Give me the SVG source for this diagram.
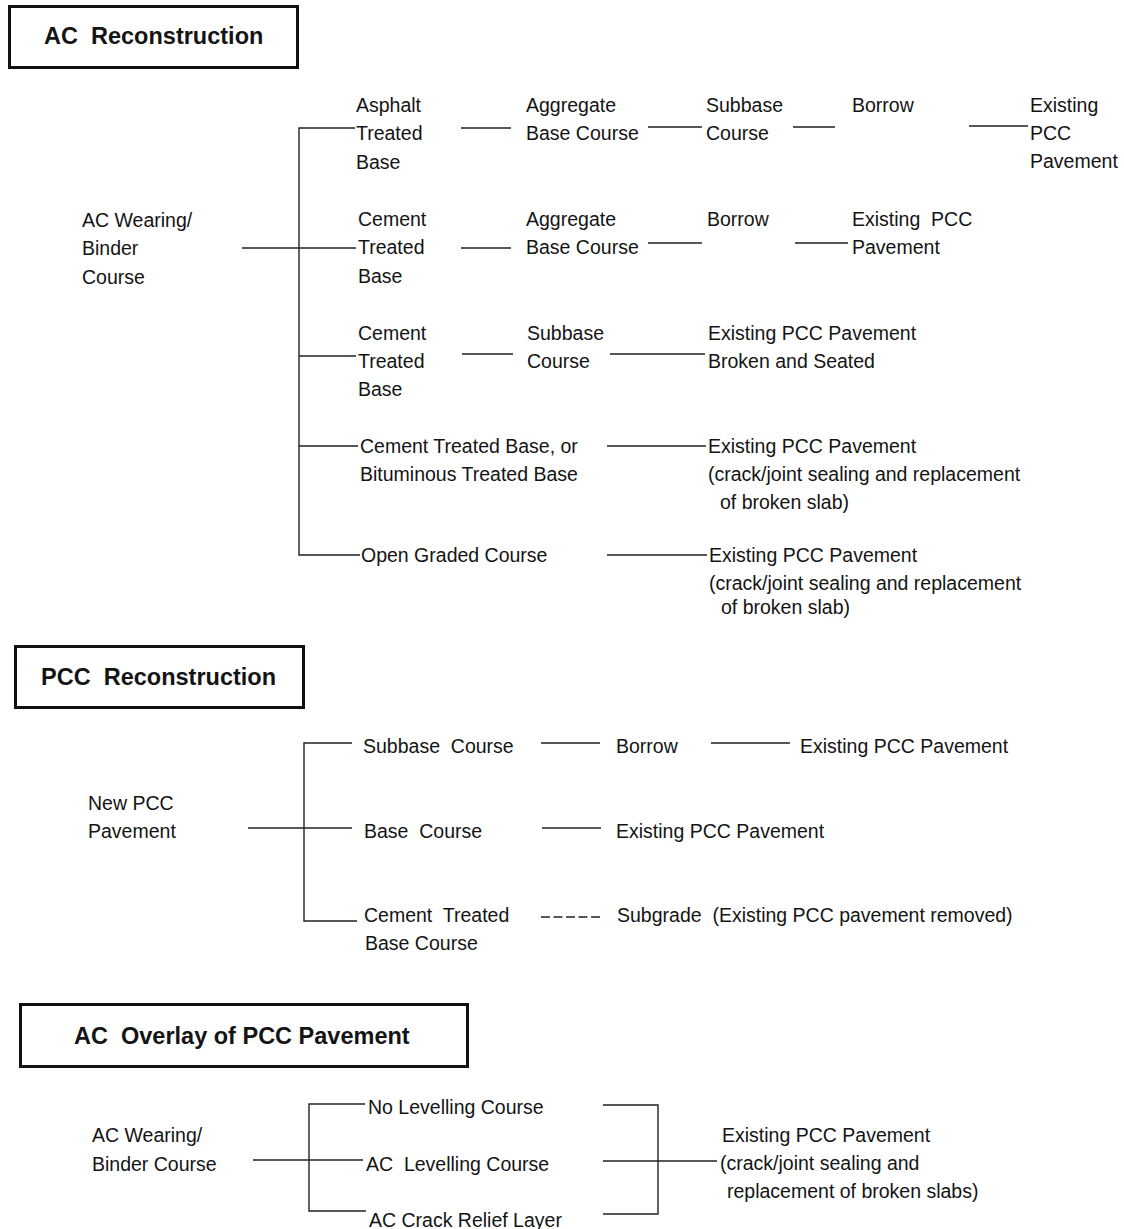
<svg xmlns="http://www.w3.org/2000/svg" width="1124" height="1229" viewBox="0 0 1124 1229">
<style>
text{font-family:"Liberation Sans",Arial,sans-serif;font-size:19.5px;fill:#141414;white-space:pre}
.title{font-weight:bold;font-size:23.5px}
.box{fill:none;stroke:#111;stroke-width:3}
.ln{stroke:#222;stroke-width:1.4;fill:none}
.dash{stroke-dasharray:9 3.5;stroke-width:1.6}
</style>
<rect width="1124" height="1229" fill="#fff"/>

<!-- Section 1 -->
<g id="hdr-ac-reconstruction"><rect class="box" x="9.5" y="6.5" width="288" height="61"/><text class="title" x="44" y="44">AC  Reconstruction</text></g>
<g id="n-ac-wearing-1"><text x="82" y="227">AC Wearing/</text><text x="82" y="255">Binder</text><text x="82" y="284">Course</text></g>
<g id="n-asphalt-tb"><text x="356" y="112">Asphalt</text><text x="356" y="140">Treated</text><text x="356" y="169">Base</text></g>
<g id="n-agg-1"><text x="526" y="112">Aggregate</text><text x="526" y="140">Base Course</text></g>
<g id="n-subbase-1"><text x="706" y="112">Subbase</text><text x="706" y="140">Course</text></g>
<g id="n-borrow-1"><text x="852" y="112">Borrow</text></g>
<g id="n-existing-1"><text x="1030" y="112">Existing</text><text x="1030" y="140">PCC</text><text x="1030" y="168">Pavement</text></g>
<g id="n-cement-tb-1"><text x="358" y="226">Cement</text><text x="358" y="254">Treated</text><text x="358" y="283">Base</text></g>
<g id="n-agg-2"><text x="526" y="226">Aggregate</text><text x="526" y="254">Base Course</text></g>
<g id="n-borrow-2"><text x="707" y="226">Borrow</text></g>
<g id="n-existing-2"><text x="852" y="226">Existing  PCC</text><text x="852" y="254">Pavement</text></g>
<g id="n-cement-tb-2"><text x="358" y="340">Cement</text><text x="358" y="368">Treated</text><text x="358" y="396">Base</text></g>
<g id="n-subbase-2"><text x="527" y="340">Subbase</text><text x="527" y="368">Course</text></g>
<g id="n-existing-3"><text x="708" y="340">Existing PCC Pavement</text><text x="708" y="368">Broken and Seated</text></g>
<g id="n-ctb-btb"><text x="360" y="453">Cement Treated Base, or</text><text x="360" y="481">Bituminous Treated Base</text></g>
<g id="n-existing-4"><text x="708" y="453">Existing PCC Pavement</text><text x="708" y="481">(crack/joint sealing and replacement</text><text x="720" y="509">of broken slab)</text></g>
<g id="n-ogc"><text x="361" y="562">Open Graded Course</text></g>
<g id="n-existing-5"><text x="709" y="562">Existing PCC Pavement</text><text x="709" y="590">(crack/joint sealing and replacement</text><text x="721" y="614">of broken slab)</text></g>

<!-- Section 2 -->
<g id="hdr-pcc-reconstruction"><rect class="box" x="15.5" y="646.5" width="288" height="61"/><text class="title" x="41" y="685">PCC  Reconstruction</text></g>
<g id="n-new-pcc"><text x="88" y="810">New PCC</text><text x="88" y="838">Pavement</text></g>
<g id="n-subbase-3"><text x="363" y="753">Subbase  Course</text></g>
<g id="n-borrow-3"><text x="616" y="753">Borrow</text></g>
<g id="n-existing-6"><text x="800" y="753">Existing PCC Pavement</text></g>
<g id="n-base-course"><text x="364" y="838">Base  Course</text></g>
<g id="n-existing-7"><text x="616" y="838">Existing PCC Pavement</text></g>
<g id="n-ctbc"><text x="364" y="922">Cement  Treated</text><text x="365" y="950">Base Course</text></g>
<g id="n-subgrade"><text x="617" y="922">Subgrade  (Existing PCC pavement removed)</text></g>

<!-- Section 3 -->
<g id="hdr-ac-overlay"><rect class="box" x="20.5" y="1004.5" width="447" height="62"/><text class="title" x="74" y="1044">AC  Overlay of PCC Pavement</text></g>
<g id="n-ac-wearing-2"><text x="92" y="1142">AC Wearing/</text><text x="92" y="1171">Binder Course</text></g>
<g id="n-no-levelling"><text x="368" y="1114">No Levelling Course</text></g>
<g id="n-ac-levelling"><text x="366" y="1171">AC  Levelling Course</text></g>
<g id="n-ac-crack"><text x="369" y="1227">AC Crack Relief Layer</text></g>
<g id="n-existing-8"><text x="722" y="1142">Existing PCC Pavement</text><text x="720" y="1170">(crack/joint sealing and</text><text x="727" y="1198">replacement of broken slabs)</text></g>

<g id="connectors" class="ln">
<!-- section 1 -->
<path class="ln" d="M355 128H299V555H360"/>
<path class="ln" d="M242 248H356"/>
<path class="ln" d="M299 356H356"/>
<path class="ln" d="M299 446H358"/>
<path class="ln" d="M461 128H511M648 127H702M793 127H835M969 126H1028"/>
<path class="ln" d="M461 248H511M648 243H702M795 243H848"/>
<path class="ln" d="M462 354H513M610 354H705"/>
<path class="ln" d="M607 446H706"/>
<path class="ln" d="M607 555H707"/>
<!-- section 2 -->
<path class="ln" d="M352 743H304V921H357"/>
<path class="ln" d="M248 828H352"/>
<path class="ln" d="M541 743H600M711 743H790"/>
<path class="ln" d="M542 828H601"/>
<path class="ln dash" d="M541 917H601"/>
<!-- section 3 -->
<path class="ln" d="M365 1104H309V1211H366"/>
<path class="ln" d="M253 1160H363"/>
<path class="ln" d="M603 1105H658V1214H603"/>
<path class="ln" d="M603 1161H717"/>
</g>
</svg>
